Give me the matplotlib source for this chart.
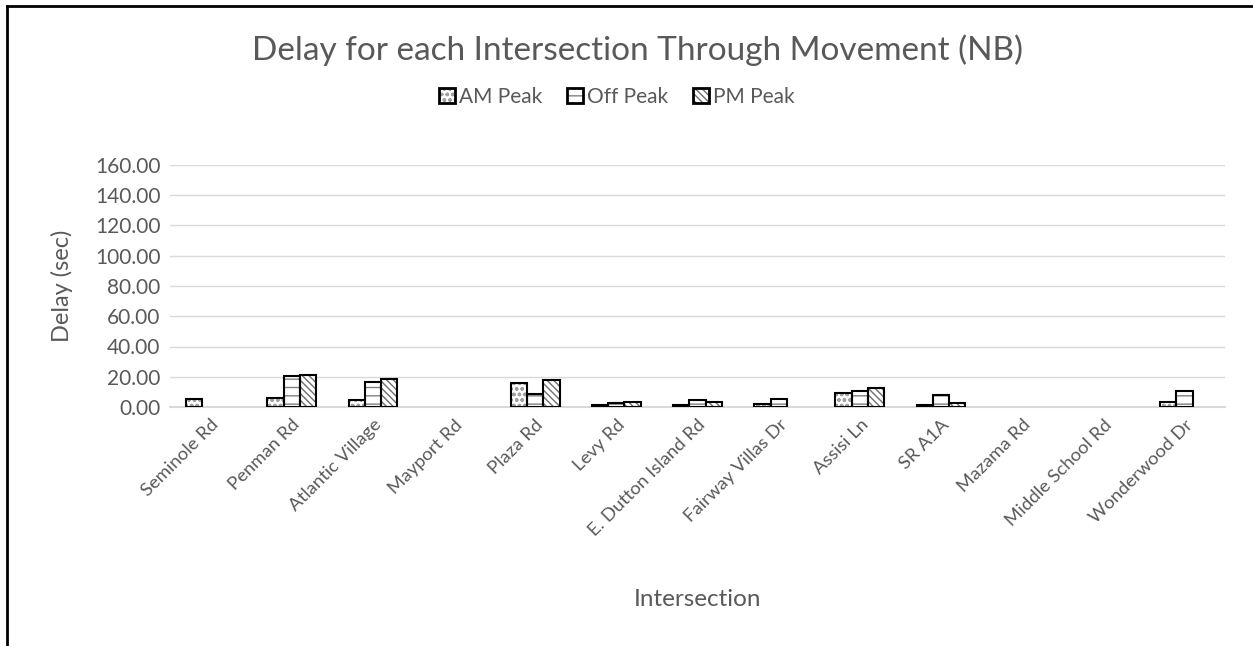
import matplotlib
matplotlib.use("Agg")
import matplotlib.pyplot as plt
import numpy as np
from matplotlib.lines import Line2D
from matplotlib.patches import Patch
from matplotlib.legend_handler import HandlerTuple

plt.rcParams['font.family'] = ['Lato', 'DejaVu Sans']
plt.rcParams['hatch.linewidth'] = 1.0

categories = ["Seminole Rd", "Penman Rd", "Atlantic Village", "Mayport Rd", "Plaza Rd",
              "Levy Rd", "E. Dutton Island Rd", "Fairway Villas Dr", "Assisi Ln", "SR A1A",
              "Mazama Rd", "Middle School Rd", "Wonderwood Dr"]
am_peak = [5.5, 6.0, 4.4, 0, 15.6, 1.6, 1.3, 2.3, 9.3, 1.6, 0, 0, 3.3]
off_peak = [0, 20.3, 16.3, 0, 8.5, 2.9, 4.5, 5.1, 10.7, 7.8, 0, 0, 10.5]
pm_peak = [0, 21.0, 18.5, 0, 17.8, 3.3, 3.1, 0, 12.3, 2.9, 0, 0, 0]
series_names = ["AM Peak", "Off Peak", "PM Peak"]
yticks = [0, 20, 40, 60, 80, 100, 120, 140, 160]

txt = '#595959'
fig = plt.figure(figsize=(12.53, 6.46), dpi=100)
ax = fig.add_axes([170/1253, 1-407/646, (1225-170)/1253, (407-165)/646])

x = np.arange(len(categories))
w = 0.2
hatches = ['ooo', '--', '\\\\\\\\\\']
hatch_cols = ['#a0a0a0', '#808080', '#707070']
handles = []
for i, (vals, name, h, hc) in enumerate(zip([am_peak, off_peak, pm_peak], series_names, hatches, hatch_cols)):
    vals = np.asarray(vals, dtype=float)
    ax.bar(x + (i - 1) * w, vals, width=w, facecolor='white', edgecolor=hc,
           hatch=h, linewidth=0, zorder=3)
    ecs = ['black' if v > 0 else 'none' for v in vals]
    ax.bar(x + (i - 1) * w, vals, width=w, facecolor='none', edgecolor=ecs,
           linewidth=1.5, zorder=4)
    handles.append((Patch(facecolor='white', edgecolor=hc, hatch=h, linewidth=0),
                    Patch(facecolor='none', edgecolor='black', linewidth=2)))

ax.set_xlim(-0.5, len(categories) - 0.5)
ax.set_ylim(0, 160)
ax.set_yticks(yticks)
ax.set_yticklabels([f"{v:.2f}" for v in yticks], color=txt, fontsize=15)
ax.grid(axis='y', color='#d9d9d9', linewidth=1, zorder=0)
ax.set_xticks(x)
ax.set_xticklabels(categories, rotation=45, ha='right', rotation_mode='anchor', color=txt, fontsize=13.3)
ax.tick_params(axis='both', length=0, pad=7)
for s in ['top', 'right', 'left']:
    ax.spines[s].set_visible(False)
ax.spines['bottom'].set_color('#d9d9d9')
ax.spines['bottom'].set_linewidth(1.5)
ax.set_ylabel("Delay (sec)", color=txt, fontsize=17, labelpad=16)
fig.text(698/1253, 1 - 600/646, "Intersection", color=txt, fontsize=17.5, ha='center', va='center')
fig.text(637/1253, 1 - 50/646, "Delay for each Intersection Through Movement (NB)", color=txt,
         fontsize=24, ha='center', va='center')
leg = fig.legend(handles, series_names, loc='center', bbox_to_anchor=(617/1253, 1 - 97/646), ncol=3,
                 frameon=False, fontsize=15, handlelength=0.75, handleheight=0.75,
                 handletextpad=0.2, columnspacing=1.2,
                 handler_map={tuple: HandlerTuple(ndivide=1, pad=0)})
for t in leg.get_texts():
    t.set_color(txt)

fig.add_artist(Line2D([7/1253, 1], [1 - 6/646, 1 - 6/646], color='black', linewidth=2, transform=fig.transFigure))
fig.add_artist(Line2D([7/1253, 7/1253], [0, 1 - 6/646], color='black', linewidth=2, transform=fig.transFigure))

fig.savefig("out.png", dpi=100)
